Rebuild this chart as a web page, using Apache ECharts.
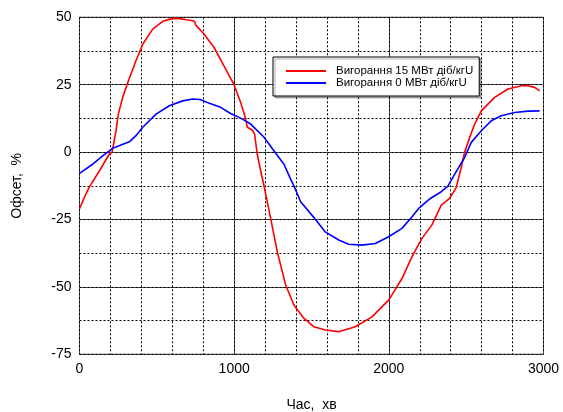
<!DOCTYPE html>
<html>
<head>
<meta charset="utf-8">
<script src="https://cdn.jsdelivr.net/npm/echarts@6/dist/echarts.min.js"></script>
<style>
  html, body { margin: 0; padding: 0; background: #fff; }
  #chart { width: 563px; height: 412px; }
</style>
</head>
<body>
<div id="chart"></div>
<script>
// Axial offset vs time for two burnup levels
const seriesNames = ['Вигорання 15 МВт діб/кгU', 'Вигорання 0 МВт діб/кгU'];

const burn15Time = [0, 30, 63, 128, 193, 210, 221, 236, 251, 279, 307, 365, 409, 473, 538, 603, 650, 689, 732, 745, 752, 805, 870, 934, 999, 1042, 1074, 1085, 1117, 1132, 1149, 1171, 1193, 1236, 1279, 1333, 1387, 1452, 1516, 1589, 1676, 1783, 1891, 1999, 2085, 2150, 2214, 2279, 2339, 2393, 2436, 2468, 2490, 2523, 2555, 2598, 2684, 2770, 2857, 2900, 2943, 2975];
const burn15Offset = [-21, -17, -13, -7, -0.7, -0.2, 0.1, 7.9, 14.1, 20.3, 25, 33.9, 40, 45.6, 48.5, 49.6, 49.5, 49.1, 48.7, 48.4, 47.1, 43.8, 38.8, 32, 25, 18.4, 12.5, 9.2, 8.2, 6.7, -0.7, -6.9, -12.5, -24.6, -37, -49.3, -56.8, -61.7, -64.8, -66, -66.6, -64.8, -61.1, -54.9, -46.9, -38.8, -32, -27, -19.7, -17.2, -13.1, -5.7, -0.1, 5.5, 10.4, 15.3, 20.3, 23.4, 24.6, 24.6, 24, 22.7];

const burn0Time = [0, 85, 150, 214, 322, 365, 409, 495, 581, 667, 732, 780, 826, 913, 977, 1042, 1107, 1193, 1257, 1322, 1365, 1387, 1430, 1516, 1589, 1676, 1740, 1826, 1912, 1999, 2085, 2150, 2193, 2268, 2339, 2382, 2426, 2490, 2533, 2598, 2662, 2727, 2813, 2900, 2975];
const burn0Offset = [-7.9, -4.5, -1.4, 1.4, 3.8, 6.1, 9.2, 14.1, 17.2, 19.0, 19.7, 19.5, 18.4, 16.6, 14.3, 12.6, 10.4, 5.5, 0.5, -4.5, -10, -12.6, -18.4, -24.3, -29.6, -32.6, -34.2, -34.5, -33.9, -31.4, -28.3, -24, -20.9, -17.2, -14.7, -12.6, -8.2, -2, 3.6, 7.9, 11.6, 13.5, 14.7, 15.2, 15.3];

const xTicks = { min: 0, max: 3000, step: 1000, minorStep: 200 };
const yTicks = { min: -75, max: 50, step: 25, minorStep: 12.5 };

const zip = (xs, ys) => xs.map((x, i) => [x, ys[i]]);
const FONT = 'Liberation Sans, Arial, sans-serif';
const labelStyle = { fontFamily: FONT, fontSize: 14, color: '#000', margin: 8, formatter: v => String(v) };
const majorLine = { show: true, lineStyle: { color: '#555', width: 1 } };
const minorLine = { show: true, lineStyle: { color: '#000', width: 1, type: [2, 2] } };

// hidden helper axis that only draws the dotted minor grid
const minorAxis = (t) => ({
  type: 'value', min: t.min, max: t.max, interval: t.minorStep,
  axisLine: { show: false }, axisTick: { show: false }, axisLabel: { show: false },
  splitLine: minorLine
});

const chart = echarts.init(document.getElementById('chart'));
chart.setOption({
  animation: false,
  backgroundColor: '#fff',
  grid: {
    left: 79.5, right: 19.5, top: 17.3, bottom: 57.7,
    outerBoundsMode: 'none', containLabel: false,
    show: true, borderColor: '#000', borderWidth: 1, backgroundColor: 'transparent'
  },
  legend: {
    orient: 'vertical',
    left: 273, top: 57,
    padding: [8, 6, 7, 13],
    itemGap: 0,
    itemWidth: 40,
    itemHeight: 2,
    icon: 'rect',
    backgroundColor: '#fff',
    borderColor: '#000',
    borderWidth: 1,
    shadowColor: 'rgba(0,0,0,0.3)',
    shadowOffsetX: 2,
    shadowOffsetY: 2,
    shadowBlur: 0,
    textStyle: { fontFamily: FONT, fontSize: 11.5, color: '#000', lineHeight: 12, padding: [0, 0, 0, 5] },
    data: seriesNames
  },
  xAxis: [
    {
      type: 'value',
      min: xTicks.min, max: xTicks.max, interval: xTicks.step,
      name: 'Час,  хв', nameLocation: 'middle', nameGap: 44,
      nameTextStyle: { fontFamily: FONT, fontSize: 14, color: '#000' },
      axisLine: { show: false },
      axisTick: { show: false },
      axisLabel: labelStyle,
      splitLine: majorLine
    },
    minorAxis(xTicks)
  ],
  yAxis: [
    {
      type: 'value',
      min: yTicks.min, max: yTicks.max, interval: yTicks.step,
      name: 'Офсет,  %', nameLocation: 'middle', nameGap: 55,
      nameTextStyle: { fontFamily: FONT, fontSize: 14, color: '#000' },
      axisLine: { show: false },
      axisTick: { show: false },
      axisLabel: labelStyle,
      splitLine: majorLine
    },
    minorAxis(yTicks)
  ],
  series: [
    {
      name: seriesNames[0], type: 'line', data: zip(burn15Time, burn15Offset),
      xAxisIndex: 0, yAxisIndex: 0,
      showSymbol: false, symbol: 'none', smooth: false,
      lineStyle: { color: '#ff0000', width: 1.6 }, itemStyle: { color: '#ff0000' }
    },
    {
      name: seriesNames[1], type: 'line', data: zip(burn0Time, burn0Offset),
      xAxisIndex: 0, yAxisIndex: 0,
      showSymbol: false, symbol: 'none', smooth: false,
      lineStyle: { color: '#0000ff', width: 1.6 }, itemStyle: { color: '#0000ff' }
    }
  ]
});
</script>
</body>
</html>
